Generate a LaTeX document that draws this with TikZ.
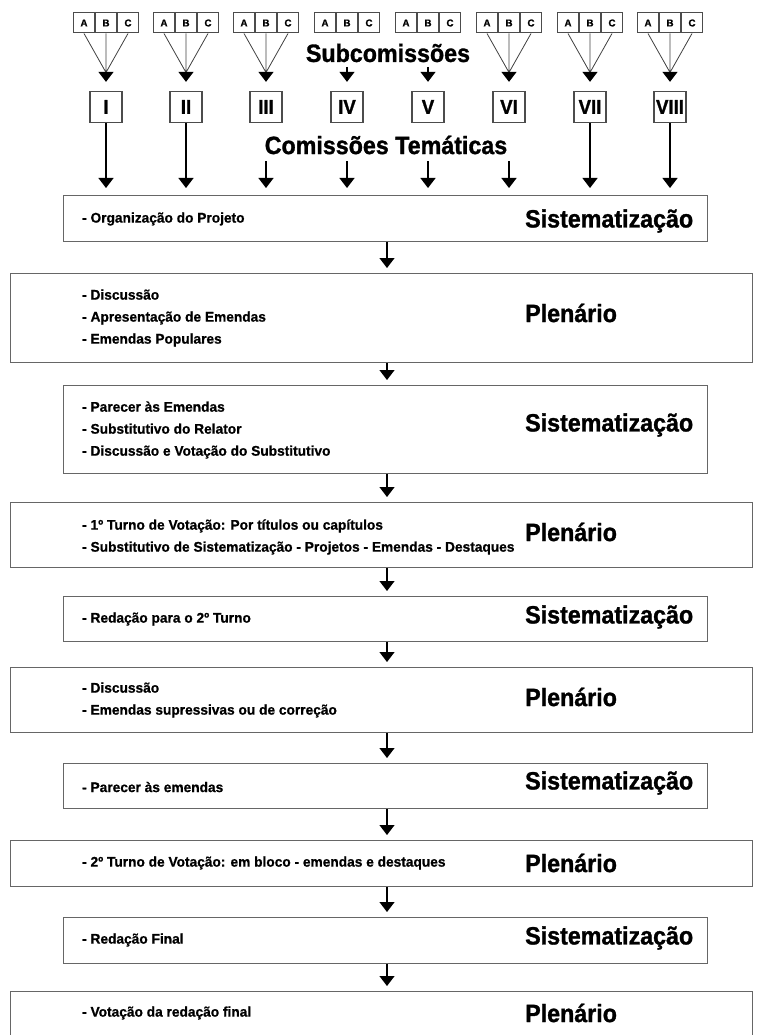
\documentclass[tikz,border=0pt]{standalone}
\usepackage{fontspec}
\setmainfont{Liberation Sans}
\newfontfamily\titlefont[FakeStretch=0.93,FakeBold=1.2]{Liberation Sans}
\newfontfamily\itemfont[FakeStretch=0.98,FakeBold=0.8]{Liberation Sans}
\usetikzlibrary{arrows.meta}

\tikzset{
  stage/.style={draw=black!60, line width=1.3pt, anchor=north west, inner sep=0pt},
  sist/.style={stage, minimum width=644pt},
  plen/.style={stage, minimum width=742pt},
  title/.style={anchor=west, inner sep=0pt, font=\titlefont\bfseries\fontsize{25}{25}\selectfont},
  items/.style={anchor=west, inner sep=0pt, align=left, font=\itemfont\bfseries\fontsize{14}{22}\selectfont},
  abc/.style={draw=black!70, line width=1pt, minimum width=21pt, minimum height=20pt, inner sep=0pt, font=\itemfont\bfseries\fontsize{10}{10}\selectfont},
  roman/.style={draw=black!70, line width=1.3pt, minimum width=32pt, minimum height=31pt, inner sep=2pt, font=\titlefont\bfseries\fontsize{20}{20}\selectfont},
  arr/.style={line width=1.2pt, -{Triangle[width=15pt,length=10pt]}},
  feed/.style={line width=0.8pt, black!75}
}

\begin{document}
\begin{tikzpicture}[x=1pt,y=-1pt]
\useasboundingbox (0,0) rectangle (759,1035);
\clip (0,0) rectangle (759,1035);

% subcomissoes and comissoes tematicas
\foreach \cx/\n/\lab in {106/1/I, 186/2/II, 266/3/III, 347/4/IV, 428/5/V, 509/6/VI, 590/7/VII, 670/8/VIII} {
  \node[abc] (a\n) at (\cx-22,23) {A};
  \node[abc] (b\n) at (\cx,23) {B};
  \node[abc] (c\n) at (\cx+22,23) {C};
  \node[roman] (r\n) at (\cx,107) {\lab};
}
\node[title, anchor=center] (sub) at (388,53) {Subcomissões};
\node[title, anchor=center] (tem) at (386,145) {Comissões Temáticas};

\foreach \n in {1,2,3,6,7,8} {
  \path (b\n.south) ++(0,39) coordinate (j\n);
  \draw[feed] (a\n.south) -- (j\n) (b\n.south) -- (j\n) (c\n.south) -- (j\n);
  \draw[arr, shorten >=9pt] (j\n) -- (r\n.north);
}
\foreach \n in {4,5} {
  \path (r\n.north) ++(0,-24) coordinate (j\n);
  \draw[arr, shorten >=9pt] (j\n) -- (r\n.north);
}

% etapas
\node[sist, minimum height=46pt] (s1) at (63,195) {};
\node[plen, minimum height=89pt] (s2) at (10,273) {};
\node[sist, minimum height=88pt] (s3) at (63,385) {};
\node[plen, minimum height=65pt] (s4) at (10,502) {};
\node[sist, minimum height=45pt] (s5) at (63,596) {};
\node[plen, minimum height=65pt] (s6) at (10,667) {};
\node[sist, minimum height=45pt] (s7) at (63,763) {};
\node[plen, minimum height=46pt] (s8) at (10,840) {};
\node[sist, minimum height=46pt] (s9) at (63,917) {};
\node[plen, minimum height=60pt] (s10) at (10,991) {};

\node[items] (t1) at (82,219) {- Organização do Projeto};
\node[items] (t2) at (82,318) {- Discussão\\- Apresentação de Emendas\\- Emendas Populares};
\node[items] (t3) at (82,430) {- Parecer às Emendas\\- Substitutivo do Relator\\- Discussão e Votação do Substitutivo};
\node[items] (t4) at (82,537) {- 1º Turno de Votação: Por títulos ou capítulos\\- Substitutivo de Sistematização - Projetos - Emendas - Destaques};
\node[items] (t5) at (82,619) {- Redação para o 2º Turno};
\node[items] (t6) at (82,700) {- Discussão\\- Emendas supressivas ou de correção};
\node[items] (t7) at (82,787) {- Parecer às emendas};
\node[items] (t8) at (82,863) {- 2º Turno de Votação: em bloco - emendas e destaques};
\node[items] (t9) at (82,940) {- Redação Final};
\node[items] (t10) at (82,1013) {- Votação da redação final};

\node[title] (l1) at (525,221) {Sistematização};
\node[title] (l2) at (525,313) {Plenário};
\node[title] (l3) at (525,425) {Sistematização};
\node[title] (l4) at (525,532) {Plenário};
\node[title] (l5) at (525,617) {Sistematização};
\node[title] (l6) at (525,697) {Plenário};
\node[title] (l7) at (525,783) {Sistematização};
\node[title] (l8) at (525,863) {Plenário};
\node[title] (l9) at (525,938) {Sistematização};
\node[title] (l10) at (525,1013) {Plenário};

% setas
\foreach \n in {1,2,7,8}
  \draw[arr, shorten >=7pt] (r\n.south) -- (r\n.south |- s1.north);
\foreach \n in {3,4,5,6} {
  \path (r\n.south) ++(0,38) coordinate (k\n);
  \draw[arr, shorten >=7pt] (k\n) -- (k\n |- s1.north);
}
\coordinate (mid) at (387,0);
\foreach \a/\b in {s1/s2,s2/s3,s3/s4,s4/s5,s5/s6,s6/s7,s7/s8,s8/s9,s9/s10}
  \draw[arr, shorten >=5pt] (\a.south -| mid) -- (\b.north -| mid);
\end{tikzpicture}
\end{document}
